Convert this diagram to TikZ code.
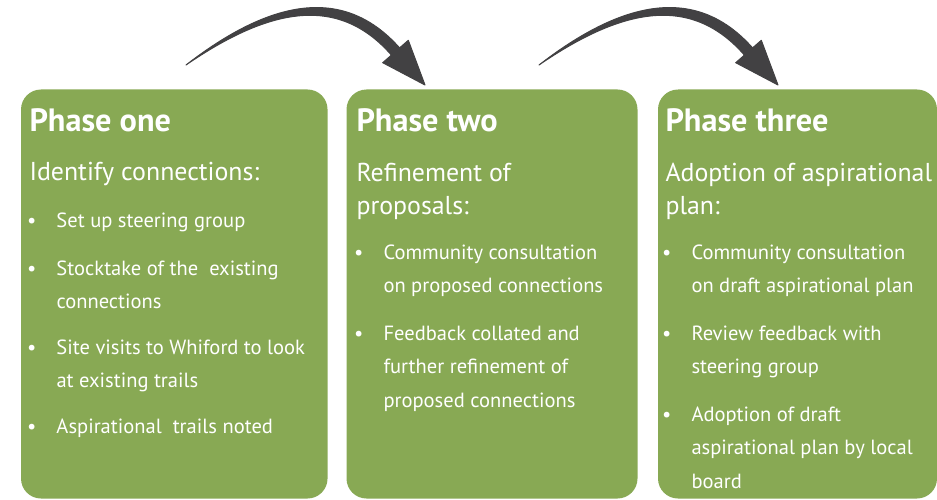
\documentclass[tikz,border=0pt]{standalone}
\usepackage{fontspec}
\setmainfont{PT Sans}

\definecolor{phasegreen}{RGB}{136,169,84}
\definecolor{arrowgrey}{RGB}{66,65,67}

\tikzset{every picture/.style={line width=0.75pt}}
\tikzset{
  phasebox/.style={fill=phasegreen, rounded corners=15pt, inner sep=0pt, anchor=north west, minimum height=306.75pt},
  phasetitle/.style={anchor=base west, inner sep=0pt, text=white, font=\bfseries\fontsize{24.2}{29}\selectfont},
  phasesub/.style={anchor=base west, inner sep=0pt, text=white, align=left, font=\fontsize{19.4}{24.75}\selectfont},
  phaseitem/.style={anchor=base west, inner sep=0pt, text=white, align=left, font=\fontsize{15.4}{25.1}\selectfont},
  phasearrow/.style={fill=arrowgrey, draw=arrowgrey, line join=round},
}
\newcommand{\bul}{\makebox[0pt][r]{\textbullet\hspace{15pt}}}

\begin{document}
\begin{tikzpicture}[x=0.75pt,y=0.75pt,yscale=-1,xscale=1]
	\useasboundingbox (0,0) rectangle (937,499);

	%Boxes
	\node[phasebox, minimum width=229.9pt] (one) at (20.5,89) {};
	\node[phasebox, minimum width=218.25pt] (two) at (346,89) {};
	\node[phasebox, minimum width=209.25pt] (three) at (657.5,89) {};

	%Arrows (tapered body + head)
	\coordinate (tailA) at (186,65);
	\coordinate (tipA) at (425,85);
	\coordinate (tailB) at (539,65);
	\coordinate (tipB) at (778,85);
	\path[phasearrow] (tailA) .. controls (265.7,3.3) and (341.1,-18) .. (399.6,47.9) -- (408.3,40.3) -- (tipA) -- (382.7,62.7) -- (391.4,55.1) .. controls (337.5,-6.6) and (268.3,8.7) .. (tailA) -- cycle;
	\path[phasearrow] (tailB) .. controls (618.7,3.3) and (694.1,-18) .. (752.6,47.9) -- (761.3,40.3) -- (tipB) -- (735.7,62.7) -- (744.4,55.1) .. controls (690.5,-6.6) and (621.3,8.7) .. (tailB) -- cycle;

	% Phase one (multi-line nodes sit on their last baseline)
	\node[phasetitle] (t1) at (29,132) {Phase one};
	\node[phasesub] (s1) at (29,180) {Identify connections:};
	\node[phaseitem] (i1a) at (56,227) {\bul Set up steering group};
	\node[phaseitem] (i1b) at (56,308.5) {\bul Stocktake of the\ \ existing\\connections};
	\node[phaseitem] (i1c) at (56,387.5) {\bul Site visits to Whiford to look\\at existing trails};
	\node[phaseitem] (i1d) at (56,433) {\bul Aspirational\ \ trails noted};

	% Phase two
	\node[phasetitle] (t2) at (356,132) {Phase two};
	\node[phasesub] (s2) at (356,214) {Refinement of\\proposals:};
	\node[phaseitem] (i2a) at (383,292.5) {\bul Community consultation\\on proposed connections};
	\node[phaseitem] (i2b) at (383,407) {\bul Feedback collated and\\further refinement of\\proposed connections};

	% Phase three
	\node[phasetitle] (t3) at (665,132) {Phase three};
	\node[phasesub] (s3) at (665,214) {Adoption of aspirational\\plan:};
	\node[phaseitem] (i3a) at (691,292.5) {\bul Community consultation\\on draft aspirational plan};
	\node[phaseitem] (i3b) at (691,373.5) {\bul Review feedback with\\steering group};
	\node[phaseitem] (i3c) at (691,488) {\bul Adoption of draft\\aspirational plan by local\\board};

\end{tikzpicture}
\end{document}
